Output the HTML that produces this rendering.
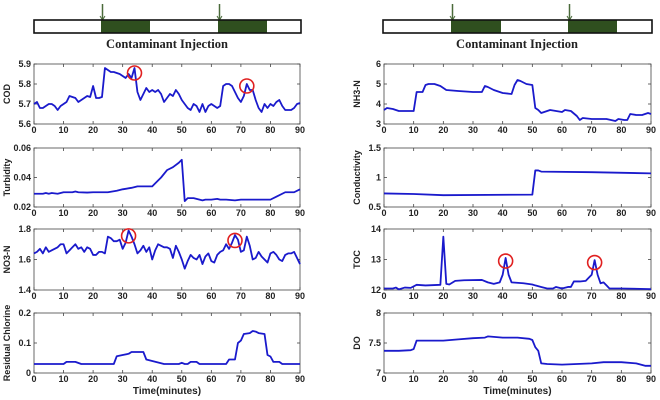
<!DOCTYPE html>
<html><head><meta charset="utf-8"><style>
html,body{margin:0;padding:0;background:#fff;}
svg{display:block;font-family:"Liberation Sans",sans-serif;}
</style></head><body>
<svg id="c" width="660" height="400" viewBox="0 0 660 400"></svg>
<script>
const timeCOD=[0,1,2,3,4,5,6,7,8,9,10,11,12,13,14,15,16,17,18,19,20,21,22,23,24,25,26,27,28,29,30,31,32,33,34,35,36,37,38,39,40,41,42,43,44,45,46,47,48,49,50,51,52,53,54,55,56,57,58,59,60,61,62,63,64,65,66,67,68,69,70,71,72,73,74,75,76,77,78,79,80,81,82,83,84,85,86,87,88,89,90];
const valCOD=[5.70,5.71,5.68,5.68,5.69,5.70,5.70,5.69,5.67,5.69,5.70,5.71,5.74,5.735,5.73,5.71,5.72,5.73,5.74,5.735,5.79,5.73,5.73,5.735,5.88,5.87,5.86,5.86,5.855,5.85,5.84,5.83,5.85,5.83,5.88,5.76,5.72,5.75,5.78,5.76,5.77,5.76,5.77,5.75,5.71,5.73,5.75,5.74,5.77,5.75,5.72,5.70,5.68,5.67,5.70,5.69,5.66,5.70,5.66,5.69,5.70,5.69,5.68,5.69,5.79,5.80,5.80,5.79,5.76,5.73,5.71,5.74,5.80,5.77,5.77,5.72,5.68,5.66,5.70,5.68,5.70,5.69,5.71,5.72,5.69,5.67,5.67,5.67,5.68,5.70,5.705];
const timeTurb=[0,3,4,5,6,8,10,13,14,15,18,20,25,28,30,33,35,40,41,43,45,47,49,50,51,52,54,56,57,58,60,62,63,65,68,70,72,75,78,80,82,85,88,90];
const valTurb=[0.029,0.029,0.0295,0.029,0.0295,0.029,0.030,0.030,0.0305,0.030,0.0298,0.030,0.030,0.031,0.032,0.033,0.034,0.034,0.036,0.040,0.045,0.047,0.050,0.052,0.024,0.026,0.026,0.025,0.0245,0.025,0.025,0.0255,0.025,0.025,0.0245,0.025,0.025,0.025,0.025,0.025,0.027,0.030,0.030,0.032];
const timeNO3=timeCOD;
const valNO3=[1.64,1.65,1.67,1.64,1.68,1.65,1.66,1.67,1.68,1.70,1.70,1.64,1.66,1.68,1.70,1.67,1.68,1.65,1.68,1.67,1.63,1.63,1.65,1.65,1.64,1.75,1.74,1.72,1.72,1.73,1.67,1.71,1.79,1.75,1.70,1.64,1.66,1.69,1.65,1.68,1.60,1.66,1.70,1.69,1.68,1.68,1.67,1.61,1.69,1.65,1.60,1.54,1.59,1.63,1.61,1.60,1.63,1.57,1.62,1.64,1.59,1.58,1.63,1.65,1.66,1.70,1.67,1.71,1.76,1.73,1.65,1.66,1.75,1.69,1.60,1.61,1.65,1.62,1.60,1.58,1.64,1.65,1.63,1.60,1.59,1.63,1.64,1.64,1.65,1.61,1.57];
const timeCl=[0,10,11,14,16,27,28,30,32,33,37,38,40,42,44,49,50,51,52,53,55,56,65,66,68,69,70,71,73,74,75,76,78,79,80,81,83,84,90];
const valCl=[0.03,0.03,0.037,0.037,0.03,0.03,0.056,0.06,0.064,0.07,0.07,0.045,0.04,0.035,0.03,0.03,0.034,0.03,0.03,0.037,0.037,0.03,0.03,0.045,0.045,0.10,0.108,0.13,0.133,0.14,0.138,0.133,0.13,0.06,0.055,0.037,0.037,0.03,0.03];
const timeNH3=[0,1,3,5,10,11,12,13,14,15,17,19,21,25,30,33,34,35,37,40,43,44,45,46,48,50,51,52,53,55,56,58,60,61,63,65,66,67,70,75,78,79,81,82,83,85,87,89,90];
const valNH3=[3.7,3.8,3.75,3.65,3.65,4.6,4.6,4.6,4.95,5.0,5.0,4.9,4.7,4.65,4.6,4.6,4.9,4.85,4.7,4.55,4.5,4.95,5.2,5.15,5.0,4.95,3.8,3.7,3.55,3.65,3.7,3.65,3.6,3.7,3.65,3.4,3.2,3.3,3.25,3.25,3.15,3.25,3.2,3.2,3.5,3.45,3.45,3.55,3.5];
const timeCond=[0,10,20,50,51,52,53,70,90];
const valCond=[0.73,0.72,0.70,0.71,1.12,1.12,1.10,1.09,1.07];
const timeTOC=[0,3,4,5,7,9,11,14,19,20,21,22,24,27,33,35,37,39,40,41,42,43,47,50,51,53,55,57,58,60,62,63,64,66,68,69,70,71,72,73,74,75,76,80,90];
const valTOC=[12.05,12.05,12.08,12.02,12.08,12.07,12.17,12.15,12.17,13.75,12.2,12.18,12.3,12.32,12.33,12.25,12.2,12.25,12.5,13.05,12.5,12.25,12.22,12.18,12.15,12.1,12.05,12.05,12.1,12.05,12.1,12.1,12.28,12.28,12.3,12.4,12.5,12.98,12.5,12.22,12.25,12.15,12.05,12.05,12.03];
const timeDO=[0,5,9,10,11,13,20,25,30,34,35,40,45,49,50,51,52,53,55,60,65,70,74,80,85,88,90];
const valDO=[7.37,7.37,7.38,7.4,7.54,7.54,7.54,7.56,7.58,7.59,7.61,7.59,7.59,7.57,7.55,7.43,7.37,7.16,7.15,7.14,7.15,7.16,7.18,7.18,7.16,7.12,7.12];
const xTicks=[0,10,20,30,40,50,60,70,80,90];
const circCOD=[[34,5.855],[72,5.79]];
const circNO3=[[32,1.755],[68,1.725]];
const circTOC=[[41,12.95],[71,12.9]];

const NS="http://www.w3.org/2000/svg";
const svg=document.getElementById('c');
function el(t,a,p){const e=document.createElementNS(NS,t);for(const k in a)e.setAttribute(k,a[k]);(p||svg).appendChild(e);return e;}

function panel(name,ylabel,x0,x1,y0,y1,ymin,ymax,yticks,ytl,ts,vs,circles,xlabel){
  const g=el('g',{});
  
  
  const sx=t=>x0+(x1-x0)*t/90, sy=v=>y1-(y1-y0)*(v-ymin)/(ymax-ymin);
  el('rect',{x:x0,y:y0,width:x1-x0,height:y1-y0,fill:'#fff',stroke:'#444','stroke-width':0.8},g);
  xTicks.forEach(t=>{
    const x=sx(t);
    el('line',{x1:x,x2:x,y1:y1,y2:y1-3,stroke:'#444','stroke-width':0.8},g);
    el('line',{x1:x,x2:x,y1:y0,y2:y0+3,stroke:'#444','stroke-width':0.8},g);
    const tx=el('text',{x:x,y:y1+9,'text-anchor':'middle','font-size':9,'font-weight':'bold',fill:'#222'},g);
    tx.textContent=t;
    
    
  });
  yticks.forEach((v,i)=>{
    const y=sy(v);
    el('line',{x1:x0,x2:x0+3,y1:y,y2:y,stroke:'#444','stroke-width':0.8},g);
    el('line',{x1:x1,x2:x1-3,y1:y,y2:y,stroke:'#444','stroke-width':0.8},g);
    const tx=el('text',{x:x0-3,y:y+3,'text-anchor':'end','font-size':9,'font-weight':'bold',fill:'#222'},g);
    tx.textContent=ytl[i];
    
    
  });
  const yl=el('text',{x:0,y:0,'text-anchor':'middle','font-size':9,'font-weight':'bold',fill:'#222',transform:`translate(${x0-24},${(y0+y1)/2}) rotate(-90)`},g);
  yl.textContent=ylabel;
  
  
  const d=ts.map((t,i)=>(i?'L':'M')+sx(t).toFixed(2)+','+sy(vs[i]).toFixed(2)).join('');
  const p=el('path',{d:d,fill:'none',stroke:'#1a1acc','stroke-width':1.8,'stroke-linejoin':'round'},g);
  
  
  (circles||[]).forEach(c=>{
    const ci=el('circle',{cx:sx(c[0]),cy:sy(c[1]),r:7,fill:'none',stroke:'#e02020','stroke-width':1.6},g);
    
    
  });
  if(xlabel){
    const xl=el('text',{x:(x0+x1)/2,y:y1+21,'text-anchor':'middle','font-size':10,'font-weight':'bold',fill:'#222'},g);
    xl.textContent='Time(minutes)';
    
    
  }
}
function inj(x0,x1,g1,g2,tx){
  const g=el('g',{});
  
  
  [g1,g2].forEach(a=>{
    el('rect',{x:a[0],y:20,width:a[1]-a[0],height:13,fill:'#2f4f1f'},g);
    el('line',{x1:a[0]+1.5,x2:a[0]+1.5,y1:4,y2:20,stroke:'#4a6a3a','stroke-width':1.5},g);
    el('path',{d:`M${a[0]-1},16 L${a[0]+1.5},20 L${a[0]+4},16`,fill:'none',stroke:'#4a6a3a','stroke-width':1},g);
  });
  el('rect',{x:x0,y:20,width:x1-x0,height:13,fill:'none',stroke:'#111','stroke-width':1.6},g);
  const t=el('text',{x:tx,y:48,'text-anchor':'middle','font-size':12.5,'font-weight':'bold','font-family':'"Liberation Serif",serif',fill:'#222'},g);
  t.textContent='Contaminant Injection';
  
  
}
inj(34,301,[101,150],[218,267],167);
inj(383,652,[451,501],[568,617],517);
const LX0=34,LX1=300,RX0=384,RX1=651;
const rows=[[64,124],[148,207],[229,290],[313,373]];
panel('cod','COD',LX0,LX1,rows[0][0],rows[0][1],5.6,5.9,[5.6,5.7,5.8,5.9],['5.6','5.7','5.8','5.9'],timeCOD,valCOD,circCOD,false);
panel('turbidity','Turbidity',LX0,LX1,rows[1][0],rows[1][1],0.02,0.06,[0.02,0.04,0.06],['0.02','0.04','0.06'],timeTurb,valTurb,null,false);
panel('no3n','NO3-N',LX0,LX1,rows[2][0],rows[2][1],1.4,1.8,[1.4,1.6,1.8],['1.4','1.6','1.8'],timeNO3,valNO3,circNO3,false);
panel('chlorine','Residual Chlorine',LX0,LX1,rows[3][0],rows[3][1],0,0.2,[0,0.1,0.2],['0','0.1','0.2'],timeCl,valCl,null,true);
panel('nh3n','NH3-N',RX0,RX1,rows[0][0],rows[0][1],3,6,[3,4,5,6],['3','4','5','6'],timeNH3,valNH3,null,false);
panel('conductivity','Conductivity',RX0,RX1,rows[1][0],rows[1][1],0.5,1.5,[0.5,1,1.5],['0.5','1','1.5'],timeCond,valCond,null,false);
panel('toc','TOC',RX0,RX1,rows[2][0],rows[2][1],12,14,[12,13,14],['12','13','14'],timeTOC,valTOC,circTOC,false);
panel('do','DO',RX0,RX1,rows[3][0],rows[3][1],7,8,[7,7.5,8],['7','7.5','8'],timeDO,valDO,null,true);
</script>
</body></html>
